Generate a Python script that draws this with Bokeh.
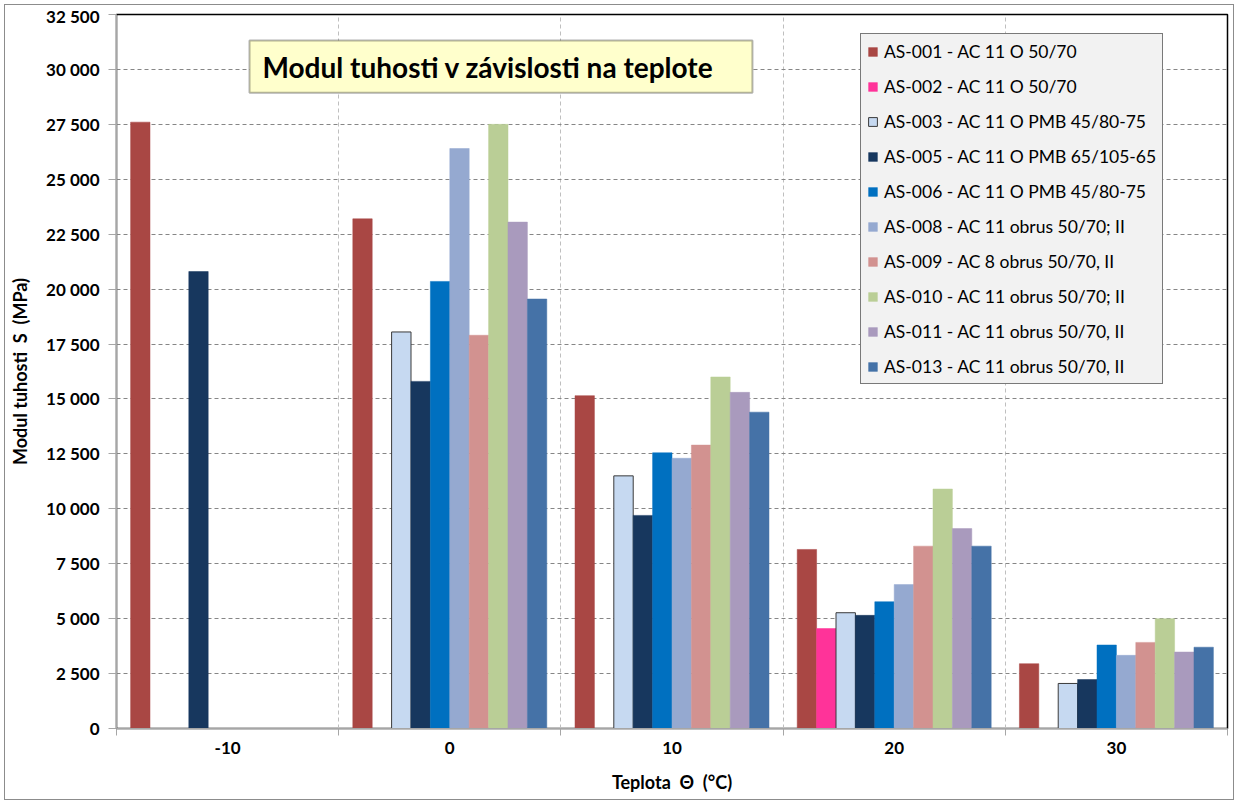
from bokeh.plotting import figure
from bokeh.models import FixedTicker, Legend, LegendItem, Label, ColumnDataSource, BoxAnnotation
from bokeh.embed import file_html
from bokeh.resources import INLINE

# ---------------- data ----------------
temperatures = ["-10", "0", "10", "20", "30"]
series_names = [
    "AS-001 - AC 11 O 50/70",
    "AS-002 - AC 11 O 50/70",
    "AS-003 - AC 11 O PMB 45/80-75",
    "AS-005 - AC 11 O PMB 65/105-65",
    "AS-006 - AC 11 O PMB 45/80-75",
    "AS-008 - AC 11 obrus 50/70; II",
    "AS-009 - AC 8 obrus 50/70, II",
    "AS-010 - AC 11 obrus 50/70; II",
    "AS-011 - AC 11 obrus 50/70, II",
    "AS-013 - AC 11 obrus 50/70, II",
]
as001 = [27600, 23200, 15150, 8150, 2950]
as002 = [None, None, None, 4550, None]
as003 = [None, 18050, 11500, 5270, 2050]
as005 = [20800, 15800, 9700, 5150, 2230]
as006 = [None, 20350, 12550, 5770, 3800]
as008 = [None, 26400, 12300, 6550, 3330]
as009 = [None, 17900, 12900, 8300, 3920]
as010 = [None, 27500, 16000, 10900, 5000]
as011 = [None, 23050, 15300, 9100, 3480]
as013 = [None, 19550, 14400, 8300, 3700]
series_values = [as001, as002, as003, as005, as006, as008, as009, as010, as011, as013]
series_colors = ["#A94744", "#FF3399", "#C6D9F1", "#17375E", "#0070C0",
                 "#95A9D0", "#D29290", "#BACE96", "#A99ABD", "#4572A7"]
series_lines = [None, None, "#3A3A3A", None, None, None, None, None, None, None]
y_ticks = list(range(0, 32501, 2500))
y_tick_labels = [f"{t:,}".replace(",", " ") for t in y_ticks]
title_text = "Modul tuhosti v závislosti na teplote"
NB = "\u00a0"
x_title = f"Teplota{NB}{NB}Θ{NB}{NB}(°C)"
y_title = f"Modul tuhosti{NB}{NB}S{NB}{NB}(MPa)"

FONT = "Lato"

p = figure(width=1230, height=796, output_backend="svg", toolbar_location=None,
           x_range=(-0.5, 4.5), y_range=(0, 32500),
           min_border_left=111, min_border_right=8, min_border_top=9, min_border_bottom=73)
p.styles = {"border": "1px solid #8C8C8C", "margin-left": "4px", "margin-top": "4px"}
p.background_fill_color = "white"
p.border_fill_color = "white"
p.outline_line_color = "black"
p.outline_line_width = 1.5

bar_w = 0.0873
n = len(series_values)
items = []
for i, (name, vals, col, lc) in enumerate(zip(series_names, series_values, series_colors, series_lines)):
    xs, tops = [], []
    for ci, v in enumerate(vals):
        if v is not None:
            xs.append(ci + (i - (n - 1) / 2) * bar_w)
            tops.append(v)
    src = ColumnDataSource(dict(x=xs, top=tops))
    r = p.vbar(x="x", top="top", bottom=0, width=bar_w, source=src,
               fill_color=col, line_color=lc if lc else col,
               line_width=1 if lc else 0.5)
    items.append(LegendItem(label=name, renderers=[r]))

# axes
p.xaxis.ticker = FixedTicker(ticks=list(range(len(temperatures))),
                             minor_ticks=[k - 0.5 for k in range(len(temperatures) + 1)])
p.xaxis.major_label_overrides = {k: t for k, t in enumerate(temperatures)}
p.xaxis.major_tick_line_color = None
p.xaxis.major_tick_out = 0
p.xaxis.major_tick_in = 0
p.xaxis.minor_tick_line_color = "#A6A6A6"
p.xaxis.minor_tick_out = 7
p.xaxis.minor_tick_in = 0
p.xaxis.major_label_standoff = 6
p.xaxis.axis_line_color = "#A6A6A6"
p.xaxis.axis_label = x_title
p.xaxis.axis_label_standoff = 14

p.yaxis.ticker = FixedTicker(ticks=y_ticks)
p.yaxis.major_label_overrides = {t: s for t, s in zip(y_ticks, y_tick_labels)}
p.yaxis.major_tick_line_color = "#A6A6A6"
p.yaxis.major_tick_out = 8
p.yaxis.major_tick_in = 0
p.yaxis.minor_tick_line_color = None
p.yaxis.major_label_standoff = 9
p.yaxis.axis_line_color = "#A6A6A6"
p.yaxis.axis_label = y_title
p.yaxis.axis_label_standoff = 12

for ax in (p.xaxis[0], p.yaxis[0]):
    ax.major_label_text_font = FONT
    ax.major_label_text_font_style = "bold"
    ax.major_label_text_font_size = "17px"
    ax.major_label_text_color = "black"
    ax.axis_label_text_font = FONT
    ax.axis_label_text_font_style = "bold"
    ax.axis_label_text_font_size = "18px"
    ax.axis_label_text_color = "black"

# grids
p.xgrid.grid_line_color = None
p.xgrid.minor_grid_line_color = "#BFBFBF"
p.xgrid.minor_grid_line_dash = "4 3"
p.ygrid.grid_line_color = "#868686"
p.ygrid.grid_line_dash = "4 3"
p.ygrid.grid_line_width = 1

# title box
title_box = BoxAnnotation(left=0.0986, right=2.362, bottom=28940, top=31313,
                          fill_color="#FFFFCC", fill_alpha=1,
                          line_color="black", line_width=2)
p.add_layout(title_box)
title = Label(x=0.157, y=30126, text=title_text, text_font=FONT, text_font_style="bold",
              text_font_size="28px", text_color="black", text_baseline="middle")
p.add_layout(title)

legend = Legend(items=items, location=(744, 344))
legend.border_line_color = "black"
legend.border_line_width = 1.5
legend.background_fill_color = "#F2F2F2"
legend.background_fill_alpha = 1
legend.label_text_font = FONT
legend.label_text_font_size = "17.5px"
legend.label_text_color = "black"
legend.glyph_width = 11
legend.glyph_height = 11
legend.label_standoff = 6
legend.label_height = 22
legend.spacing = 13
legend.padding = 6
legend.margin = 0
p.add_layout(legend)

open("out.html", "w").write(file_html(p, INLINE))
